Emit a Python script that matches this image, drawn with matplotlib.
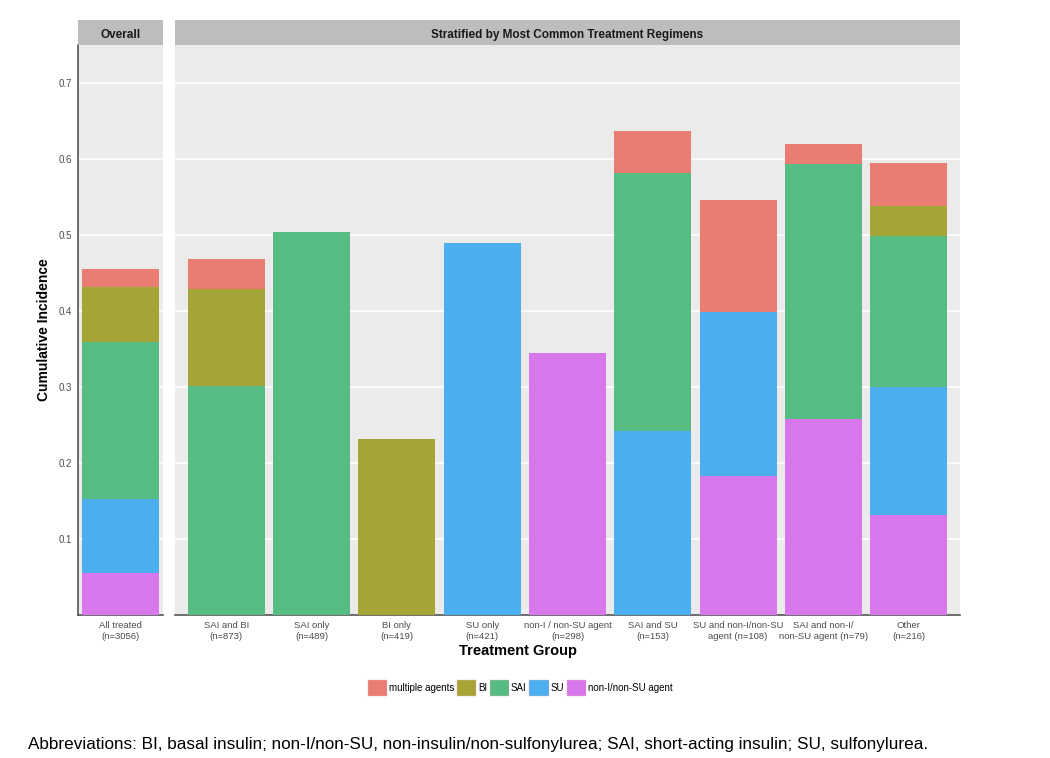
import numpy as np
import matplotlib.pyplot as plt
from matplotlib.patches import Patch

plt.rcParams['font.family'] = ['Liberation Sans', 'DejaVu Sans']

# data (cumulative incidence, stacked bottom -> top)
overall_label = ['All treated\n(n=3056)']
groups = ['SAI and BI\n(n=873)', 'SAI only\n(n=489)', 'BI only\n(n=419)', 'SU only\n(n=421)',
          'non-I / non-SU agent\n(n=298)', 'SAI and SU\n(n=153)', 'SU and non-I/non-SU\nagent (n=108)',
          'SAI and non-I/\nnon-SU agent (n=79)', 'Other\n(n=216)']

# segment heights per component
overall_nonI = [0.055]
overall_su = [0.098]
overall_sai = [0.206]
overall_bi = [0.073]
overall_multi = [0.023]

nonI = [0, 0, 0, 0, 0.345, 0, 0.183, 0.258, 0.132]
su = [0, 0, 0, 0.489, 0, 0.242, 0.216, 0, 0.168]
sai = [0.301, 0.504, 0, 0, 0, 0.340, 0, 0.335, 0.199]
bi = [0.128, 0, 0.232, 0, 0, 0, 0, 0, 0.039]
multi = [0.039, 0, 0, 0, 0, 0.055, 0.147, 0.027, 0.057]

components = ['non-I/non-SU agent', 'SU', 'SAI', 'BI', 'multiple agents']
colors = {'multiple agents': '#E97D72', 'BI': '#A5A536', 'SAI': '#56BC84',
          'SU': '#4BAEEE', 'non-I/non-SU agent': '#D877EB'}

W, H = 1050, 758
fig = plt.figure(figsize=(10.5, 7.58), dpi=100)

def box(x0, y0, x1, y1):
    return [x0 / W, 1 - y1 / H, (x1 - x0) / W, (y1 - y0) / H]

ax1 = fig.add_axes(box(78, 45, 163, 615))
ax2 = fig.add_axes(box(175, 45, 960, 615))
s1 = fig.add_axes(box(78, 20, 163, 45))
s2 = fig.add_axes(box(175, 20, 960, 45))

def draw(ax, labels, stacks):
    x = np.arange(1, len(labels) + 1)
    bottom = np.zeros(len(labels))
    for name, vals in zip(components, stacks):
        vals = np.array(vals)
        ax.bar(x, vals, 0.9, bottom=bottom, color=colors[name], zorder=3)
        bottom += vals
    ax.set_facecolor('#EBEBEB')
    ax.set_ylim(0, 0.75)
    ax.set_xlim(0.4 if len(labels) > 1 else 0.5, len(labels) + 0.6 if len(labels) > 1 else 1.5)
    ax.set_yticks([0.1, 0.2, 0.3, 0.4, 0.5, 0.6, 0.7])
    ax.grid(axis='y', color='white', linewidth=1.2, zorder=0)
    ax.set_xticks(x)
    ax.set_xticklabels(labels, fontsize=6.8, color='#4D4D4D', linespacing=1.4)
    ax.tick_params(axis='both', length=0, pad=4)
    for sp in ['top', 'right', 'left']:
        ax.spines[sp].set_visible(False)
    ax.spines['bottom'].set_color('#555555')
    ax.spines['bottom'].set_linewidth(1.2)

draw(ax1, overall_label, [overall_nonI, overall_su, overall_sai, overall_bi, overall_multi])
draw(ax2, groups, [nonI, su, sai, bi, multi])

ax1.spines['left'].set_visible(True)
ax1.spines['left'].set_color('#555555')
ax1.spines['left'].set_linewidth(1.2)
ax1.set_yticklabels(['0.1', '0.2', '0.3', '0.4', '0.5', '0.6', '0.7'], fontsize=7, color='#4D4D4D')
ax2.set_yticklabels([])
ax1.set_ylabel('Cumulative Incidence', fontsize=10, fontweight='bold', labelpad=6)

for s, t in [(s1, 'Overall'), (s2, 'Stratified by Most Common Treatment Regimens')]:
    s.set_facecolor('#BDBDBD')
    s.set_xticks([])
    s.set_yticks([])
    for sp in s.spines.values():
        sp.set_visible(False)
    s.text(0.5, 0.45, t, ha='center', va='center_baseline', fontsize=8.5, fontweight='bold',
           color='#1A1A1A', transform=s.transAxes)

fig.text(518 / W, 1 - 651 / H, 'Treatment Group', ha='center', va='center',
         fontsize=10.5, fontweight='bold')

handles = [Patch(facecolor=colors[c], edgecolor='#F0B0B0', linewidth=0.3)
           for c in ['multiple agents', 'BI', 'SAI', 'SU', 'non-I/non-SU agent']]
fig.legend(handles, ['multiple agents', 'BI', 'SAI', 'SU', 'non-I/non-SU agent'],
           loc='center', bbox_to_anchor=(520 / W, 1 - 688 / H), ncol=5, frameon=False,
           fontsize=7, handlelength=2.0, handleheight=2.2, handletextpad=0.15,
           columnspacing=0.3)

fig.text(28 / W, 1 - 745 / H, 'Abbreviations: BI, basal insulin; non-I/non-SU, non-insulin/non-sulfonylurea; '
         'SAI, short-acting insulin; SU, sulfonylurea.', ha='left', va='center', fontsize=12.3)

fig.savefig('out.png', dpi=100)
